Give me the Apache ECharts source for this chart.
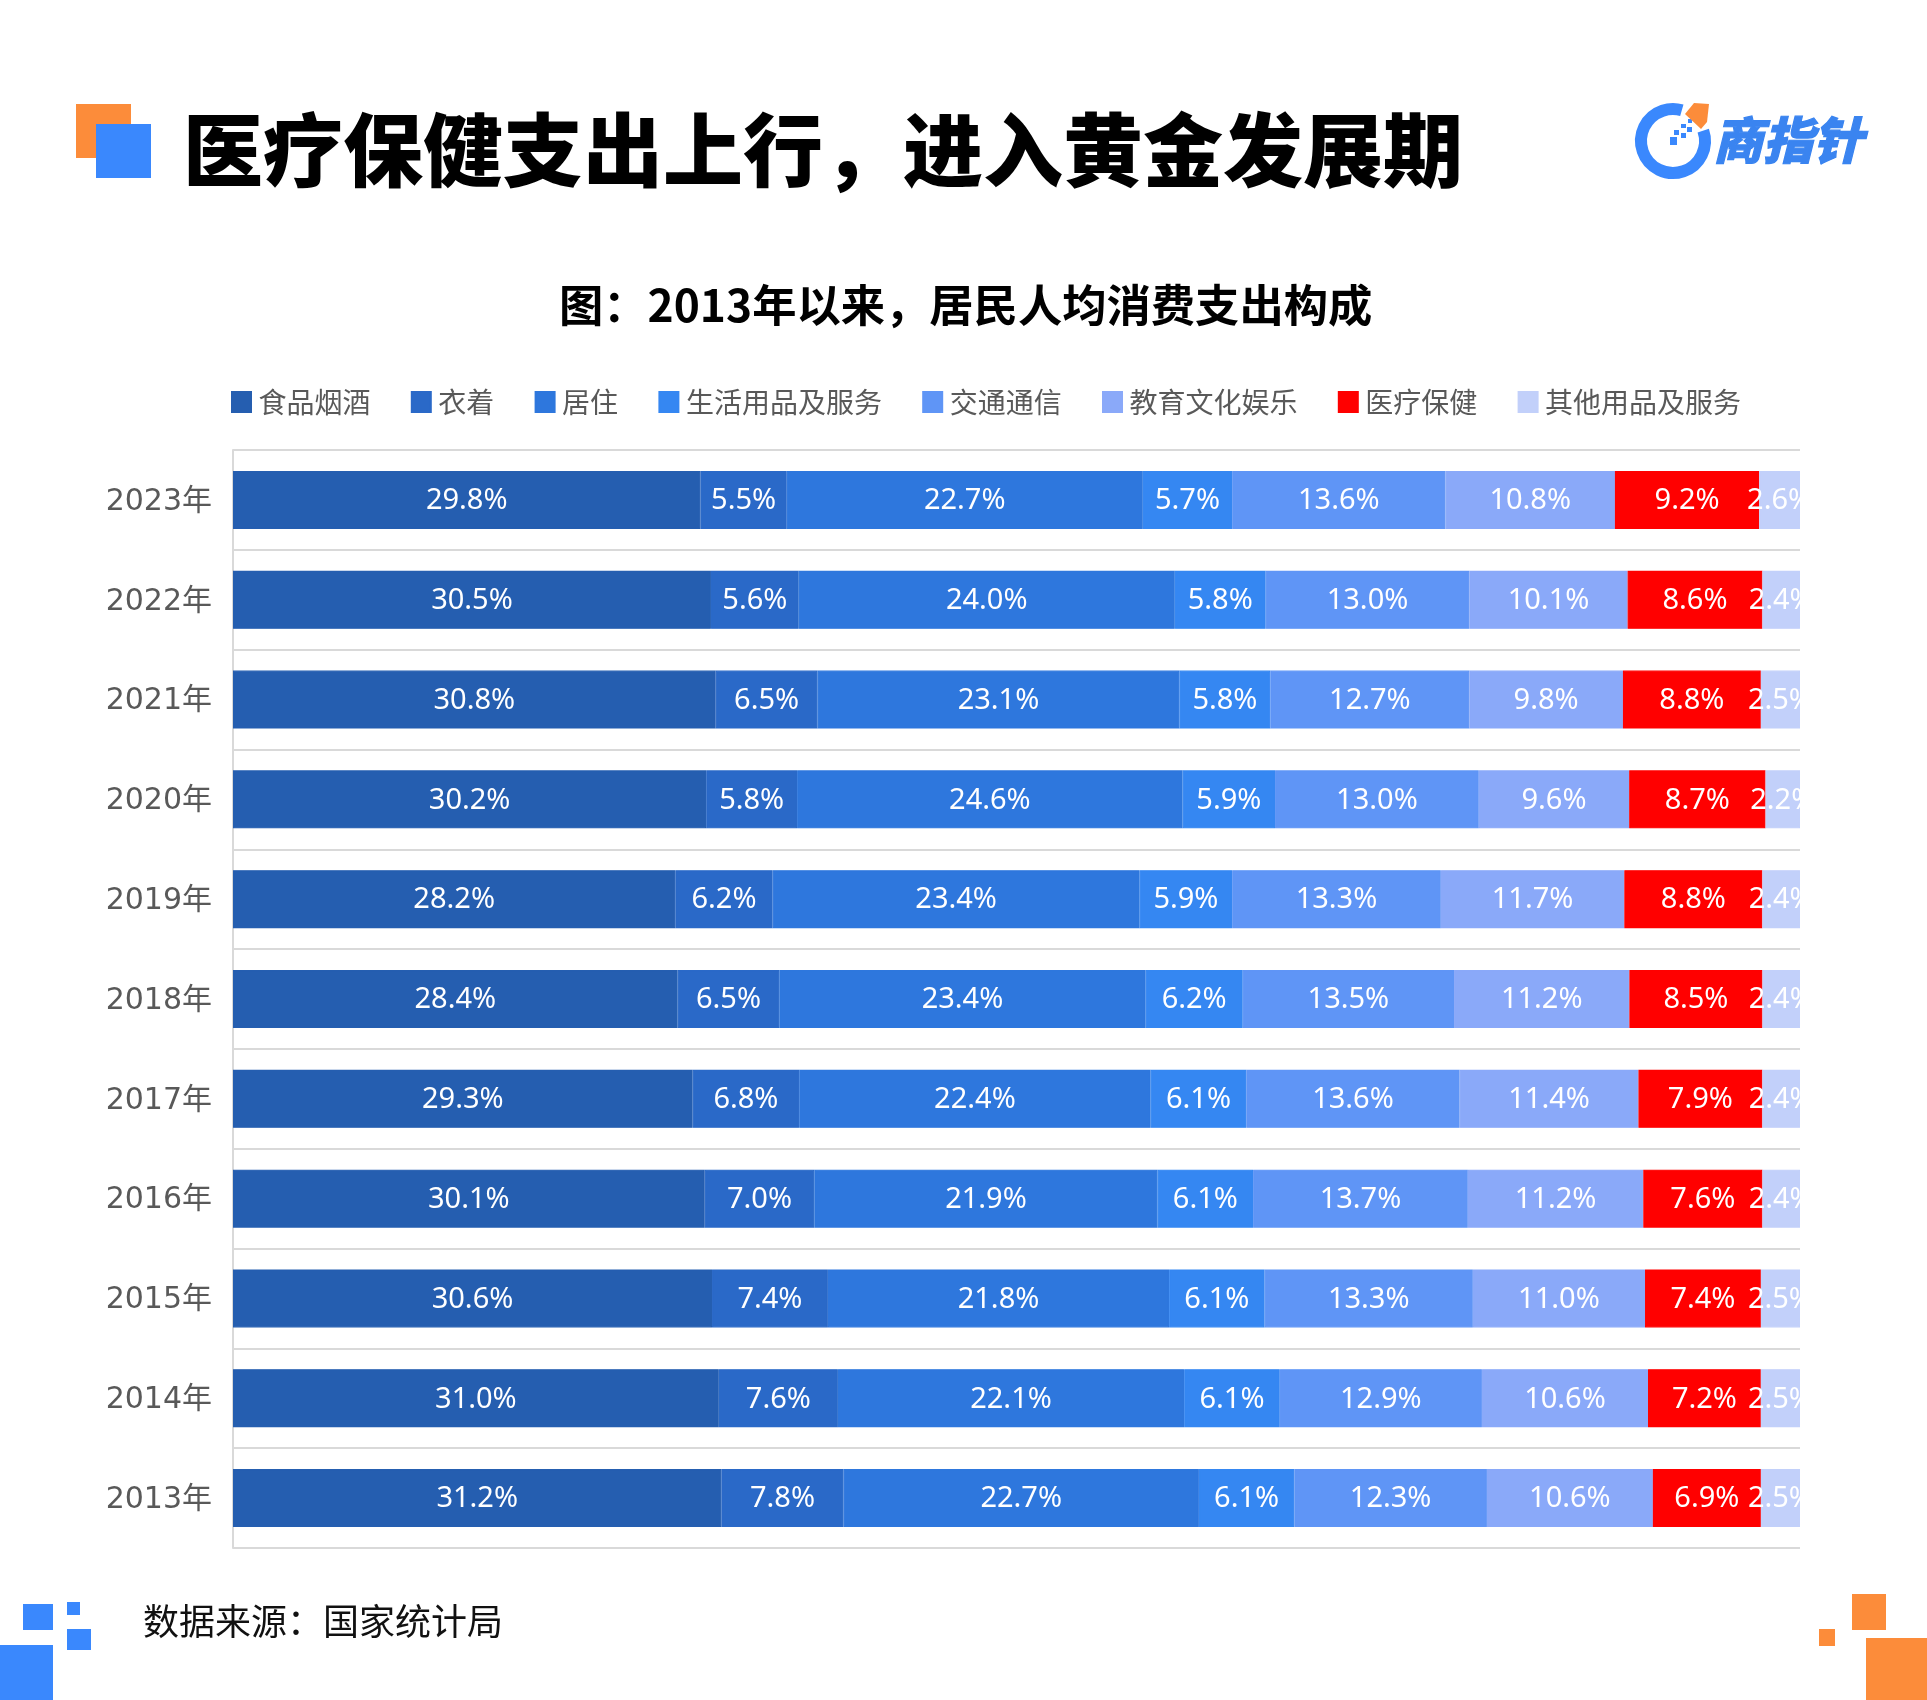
<!DOCTYPE html>
<html>
<head>
<meta charset="utf-8">
<style>
html, body { margin: 0; padding: 0; background: #fff; }
#main { width: 1927px; height: 1700px; }
</style>
<script src="https://cdn.jsdelivr.net/npm/echarts@6/dist/echarts.min.js"></script>
</head>
<body>
<div id="main"></div>
<script>
var years = ['2023年', '2022年', '2021年', '2020年', '2019年', '2018年', '2017年', '2016年', '2015年', '2014年', '2013年'];
var names = ['食品烟酒', '衣着', '居住', '生活用品及服务', '交通通信', '教育文化娱乐', '医疗保健', '其他用品及服务'];
var colors = ['#255EB0', '#2A69C8', '#2E77DD', '#3587F2', '#5F95F6', '#8AA9F9', '#FF0000', '#C2D0FA'];

var food = [29.8, 30.5, 30.8, 30.2, 28.2, 28.4, 29.3, 30.1, 30.6, 31.0, 31.2];
var clothing = [5.5, 5.6, 6.5, 5.8, 6.2, 6.5, 6.8, 7.0, 7.4, 7.6, 7.8];
var housing = [22.7, 24.0, 23.1, 24.6, 23.4, 23.4, 22.4, 21.9, 21.8, 22.1, 22.7];
var household = [5.7, 5.8, 5.8, 5.9, 5.9, 6.2, 6.1, 6.1, 6.1, 6.1, 6.1];
var transport = [13.6, 13.0, 12.7, 13.0, 13.3, 13.5, 13.6, 13.7, 13.3, 12.9, 12.3];
var education = [10.8, 10.1, 9.8, 9.6, 11.7, 11.2, 11.4, 11.2, 11.0, 10.6, 10.6];
var medical = [9.2, 8.6, 8.8, 8.7, 8.8, 8.5, 7.9, 7.6, 7.4, 7.2, 6.9];
var other = [2.6, 2.4, 2.5, 2.2, 2.4, 2.4, 2.4, 2.4, 2.5, 2.5, 2.5];
var values = [food, clothing, housing, household, transport, education, medical, other];

// the chart is a 100% stack: rounded shares do not always add up to exactly 100
var totals = years.map(function (y, j) {
    return values.reduce(function (sum, s) { return sum + s[j]; }, 0);
});

var cjk = '"Noto Sans CJK SC", sans-serif';
var latin = '"Noto Sans", "Noto Sans CJK SC", sans-serif';
var blue = '#3A88FD', orange = '#FC8C3A';

function box(x, y, w, h, color) {
    return { type: 'rect', shape: { x: x, y: y, width: w, height: h }, style: { fill: color }, z: 110 };
}

var chart = echarts.init(document.getElementById('main'), null, { renderer: 'canvas' });
chart.setOption({
    animation: false,
    backgroundColor: '#fff',
    title: [
        { text: '医疗保健支出上行，进入黄金发展期', left: 183, top: 110, padding: 0,
          textStyle: { fontFamily: cjk, fontSize: 80, fontWeight: 900, color: '#000' } },
        { text: '图：2013年以来，居民人均消费支出构成', left: 559, top: 283, padding: 0,
          textStyle: { fontFamily: cjk, fontSize: 44.3, fontWeight: 700, color: '#000' } },
        { text: '数据来源：国家统计局', left: 143, top: 1603, padding: 0,
          textStyle: { fontFamily: cjk, fontSize: 36, fontWeight: 400, color: '#111' } }
    ],
    legend: {
        left: 231, top: 388, padding: 0,
        itemWidth: 19, itemHeight: 20, itemGap: 40.3,
        icon: 'rect',
        data: names,
        textStyle: { fontFamily: cjk, fontSize: 28, color: '#595959', padding: [0, 0, 0, 2.5] }
    },
    grid: { left: 233, top: 450, width: 1567, height: 1098, containLabel: false },
    xAxis: { type: 'value', min: 0, max: 100, show: false, splitLine: { show: false } },
    yAxis: {
        type: 'category', inverse: true, data: years,
        axisLine: { show: true, lineStyle: { color: '#D9D9D9', width: 2 } },
        axisTick: { show: false },
        splitLine: { show: true, lineStyle: { color: '#D9D9D9', width: 2 } },
        axisLabel: { margin: 21, verticalAlign: 'top', lineHeight: 4, fontFamily: '"DejaVu Sans", "Noto Sans CJK SC", sans-serif', fontSize: 30, color: '#595959' }
    },
    series: names.map(function (name, i) {
        return {
            name: name, type: 'bar', stack: 'total', barWidth: 58,
            data: values[i].map(function (v, j) { return v / totals[j] * 100; }),
            itemStyle: { color: colors[i], borderColor: colors[i], borderWidth: 1.2 },
            label: {
                show: true, position: 'inside', color: '#fff', offset: [0, 1],
                fontFamily: latin, fontSize: 29,
                formatter: function (p) { return values[i][p.dataIndex].toFixed(1) + '%'; }
            }
        };
    }),
    graphic: [
        // labels are cut off at the plot's right edge
        box(1801, 460, 60, 1085, '#fff'),
        // header marks
        box(76, 104, 55, 54, orange),
        box(96, 124, 55, 54, blue),
        // footer marks, left
        box(23, 1604, 30, 26, blue),
        box(67, 1602, 13, 13, blue),
        box(67, 1629, 24, 21, blue),
        box(0, 1645, 53, 55, blue),
        // footer marks, right
        box(1852, 1594, 34, 36, orange),
        box(1819, 1629, 16, 17, orange),
        box(1866, 1638, 61, 62, orange),
        // logo
        { type: 'arc', z: 110,
          shape: { cx: 1673, cy: 141, r: 32, startAngle: -19 * Math.PI / 180, endAngle: 286 * Math.PI / 180, clockwise: true },
          style: { stroke: blue, fill: null, lineWidth: 12 } },
        { type: 'polygon', z: 111,
          shape: { points: [[1694, 103], [1709, 104], [1707, 122], [1701, 129], [1685, 114]] },
          style: { fill: orange } },
        box(1670, 137, 7, 8, blue),
        box(1674, 130, 5, 5, blue),
        box(1681, 133, 5, 5, blue),
        box(1681, 124, 5, 4, blue),
        box(1687, 127, 5, 5, blue),
        box(1688, 119, 4, 4, blue),
        { type: 'text', z: 112, x: 1713, y: 115,
          style: { text: '商指针', font: 'italic 900 50px "Noto Sans CJK SC"', fill: '#3A84F0', stroke: '#3A84F0', lineWidth: 1.2 } }
    ]
});
</script>
</body>
</html>
